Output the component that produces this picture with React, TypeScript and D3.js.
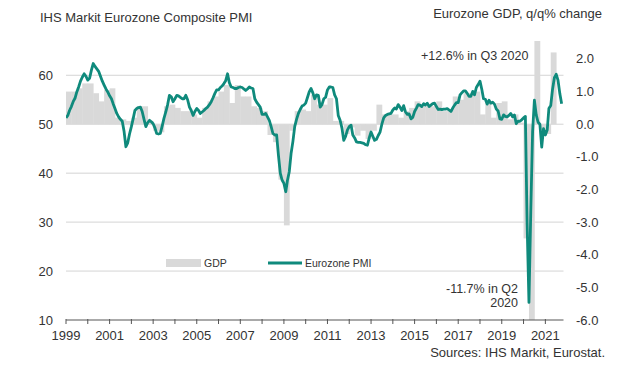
import React from "react";
import * as d3 from "d3";

// Eurozone Composite PMI, monthly from Jan 1999
const pmi1999_2004 = [
  51.3, 51.8, 52.8, 53.6, 54.6, 55.3, 56.6, 57.6, 58.8, 59.6, 60.3, 59.8,
  59.0, 59.4, 61.0, 62.4, 61.8, 61.3, 60.8, 59.8, 58.8, 58.0, 57.2, 56.6,
  55.8, 55.2, 54.2, 53.2, 52.2, 51.5, 51.0, 50.6, 48.5, 45.4, 46.2, 48.0,
  49.5, 51.2, 52.8, 53.2, 53.4, 53.5, 52.6, 51.0, 49.5, 50.3, 50.8, 50.5,
  50.1, 49.2, 48.1, 48.0, 48.1, 49.6, 51.2, 52.5, 54.0, 55.9, 55.6, 54.6,
  55.2, 55.9, 55.8, 55.5, 55.2, 55.2, 55.9, 55.0, 53.5, 52.8, 51.8, 52.6,
];
const pmi2005_2010 = [
  53.2, 52.8, 52.2, 52.5, 52.8, 53.2, 53.5, 54.0, 54.6, 55.4, 56.3, 57.0,
  57.0, 57.5, 57.8, 58.3, 58.9, 60.3, 58.5, 57.6, 57.5, 57.3, 57.3, 57.5,
  57.6, 57.5, 57.2, 56.9, 57.2, 57.6, 57.4, 57.3, 55.2, 54.5, 54.0, 53.5,
  52.0, 52.0, 52.2, 51.5, 50.8, 49.5, 48.1, 47.8, 47.8, 43.7, 40.0, 38.6,
  37.9, 36.2, 38.5, 40.3, 44.0, 46.5, 49.5, 51.0, 52.2, 53.0, 53.7, 53.9,
  54.3, 55.5, 56.6, 57.3, 56.4, 55.2, 56.0, 55.9, 53.5, 54.0, 55.2, 55.5,
];
const pmi2011_2016 = [
  57.0, 57.6, 57.6, 57.5, 56.0, 55.2, 51.8, 50.8, 49.2, 46.7, 47.5, 48.8,
  49.5, 49.8, 47.8, 47.2, 46.4, 46.3, 46.3, 46.2, 46.1, 45.8, 45.7, 47.2,
  48.4, 47.5, 46.7, 46.9, 47.7, 48.4, 50.0, 51.3, 51.8, 52.0, 52.1, 52.2,
  52.9, 53.3, 53.1, 54.0, 53.5, 52.8, 53.8, 52.5, 52.0, 52.1, 51.1, 51.4,
  52.6, 53.3, 54.0, 53.9, 53.6, 54.2, 53.9, 54.3, 53.6, 53.9, 54.2, 54.3,
  53.6, 53.0, 53.1, 53.0, 53.1, 53.1, 53.2, 52.9, 52.6, 53.3, 53.9, 54.4,
];
const pmi2017_2021 = [
  54.4, 56.0, 56.4, 56.8, 56.8, 56.3, 55.7, 55.7, 56.7, 56.0, 57.5, 58.1,
  58.8, 57.1, 55.2, 55.1, 54.1, 54.9, 54.3, 54.5, 54.1, 53.1, 52.7, 51.1,
  51.0, 51.9, 51.6, 51.5, 51.8, 52.2, 51.5, 51.9, 50.1, 50.6, 50.6, 50.9,
  51.3, 51.6, 29.7, 13.6, 31.9, 48.5, 54.9, 51.9, 50.4, 50.0, 45.3, 49.1,
  47.8, 48.8, 53.2, 53.8, 57.1, 59.5, 60.2, 59.0, 56.2, 54.2,
];

// Eurozone GDP q/q %, quarterly from 1999 Q1
const gdpQuarterly = [
  1.0, 1.0, 1.1, 1.25,
  1.25, 0.95, 0.7, 1.05,
  1.1, 0.2, 0.15, 0.1,
  0.2, 0.55, 0.55, 0.1,
  -0.2, -0.25, 0.55, 0.6,
  0.5, 0.4, 0.4, 0.3,
  0.2, 0.5, 0.7, 0.85,
  1.0, 1.2, 0.65, 1.2,
  0.85, 0.85, 0.55, 0.5,
  0.4, -0.33, -0.55, -1.7,
  -3.1, -0.2, 0.4, 0.45,
  0.4, 0.9, 0.6, 0.6,
  0.8, 0.1, 0.1, -0.3,
  -0.1, -0.35, -0.2, -0.45,
  -0.2, 0.6, 0.3, 0.3,
  0.3, 0.2, 0.4, 0.5,
  0.7, 0.55, 0.55, 0.55,
  0.7, 0.4, 0.45, 0.85,
  0.75, 0.95, 0.95, 1.0,
  0.3, 0.65, 0.2, 0.65,
  0.7, 0.15, 0.3, 0.05,
  -3.5, -11.7, 12.6, -0.2,
  -0.3, 2.2,
];

const yearTicks = d3.range(1999, 2022);
const yearLabels = d3.range(1999, 2022, 2);
const leftTicks = [10, 20, 30, 40, 50, 60];
const rightTicks = [2, 1, 0, -1, -2, -3, -4, -5, -6];

const pmiMonthly = [...pmi1999_2004, ...pmi2005_2010, ...pmi2011_2016, ...pmi2017_2021];

const TEAL = "#0f8a7c";
const GREY_BAR = "#d9d9d9";
const TEXT = "#333333";
const FONT = "'Liberation Sans', Arial, sans-serif";

export default function App() {
  const W = 641, H = 381;
  const left = 66, right = 563.5, top = 41, bottom = 320;

  const x = d3.scaleTime()
    .domain([new Date(1999, 0, 1), new Date(2021, 10, 1)])
    .range([left, right]);
  const yL = d3.scaleLinear().domain([10, 67]).range([bottom, top]);
  const yR = d3.scaleLinear().domain([(10 - 50) / (40 / 6), (67 - 50) / (40 / 6)]).range([bottom, top]);

  const pmiPts = pmiMonthly.map((v, i) => ({ d: new Date(1999, i, 1), v }));
  const line = d3.line<{ d: Date; v: number }>()
    .x((p) => x(p.d))
    .y((p) => yL(p.v));

  const bars = gdpQuarterly.map((v, i) => {
    const x0 = x(new Date(1999, i * 3, 1));
    const x1 = x(new Date(1999, i * 3 + 3, 1));
    const y0 = yR(0);
    const y1 = yR(v);
    return { x: x0, w: x1 - x0 + 0.4, y: Math.min(y0, y1), h: Math.abs(y1 - y0) };
  });

  return (
    <svg width={W} height={H} style={{ position: "absolute", left: 0, top: 0, background: "#fff" }} fontFamily={FONT}>
      <defs>
        <clipPath id="plot">
          <rect x={left} y={top} width={right - left} height={bottom - top} />
        </clipPath>
      </defs>
      <rect x={0} y={0} width={W} height={H} fill="#fff" />

      {/* gridlines */}
      {leftTicks.filter((t) => t > 10).map((t) => (
        <line key={t} x1={left} x2={right} y1={yL(t)} y2={yL(t)} stroke="#d4d4d4" strokeWidth={1} />
      ))}

      {/* GDP bars */}
      <g clipPath="url(#plot)">
        {bars.map((b, i) => (
          <rect key={i} x={b.x} y={b.y} width={b.w} height={b.h} fill={GREY_BAR} />
        ))}
      </g>

      {/* PMI line */}
      <g clipPath="url(#plot)">
        <path d={line(pmiPts) || ""} fill="none" stroke={TEAL} strokeWidth={2.8} strokeLinejoin="round" />
      </g>

      {/* x axis */}
      <line x1={left} x2={right} y1={bottom} y2={bottom} stroke="#555" strokeWidth={1} />
      {yearTicks.map((yr) => (
        <line key={yr} x1={x(new Date(yr, 0, 1))} x2={x(new Date(yr, 0, 1))} y1={bottom - 1} y2={bottom + 4} stroke="#555" strokeWidth={1} />
      ))}
      {yearLabels.map((yr) => (
        <text key={yr} x={x(new Date(yr, 0, 1))} y={340} textAnchor="middle" fontSize={13} fill={TEXT}>{yr}</text>
      ))}

      {/* left axis labels */}
      {leftTicks.map((t) => (
        <text key={t} x={53} y={yL(t) + 4.5} textAnchor="end" fontSize={13} fill={TEXT}>{t}</text>
      ))}

      {/* right axis labels */}
      {rightTicks.map((t) => (
        <text key={t} x={576} y={yR(t) + 4.5} textAnchor="start" fontSize={13} fill={TEXT}>{t.toFixed(1)}</text>
      ))}

      {/* titles */}
      <text x={40} y={21.5} fontSize={13} fill={TEXT}>IHS Markit Eurozone Composite PMI</text>
      <text x={602} y={17.5} textAnchor="end" fontSize={13} fill={TEXT}>Eurozone GDP, q/q% change</text>

      {/* annotations */}
      <text x={421} y={60} fontSize={12.5} fill={TEXT}>+12.6% in Q3 2020</text>
      <text x={518} y={293} textAnchor="end" fontSize={12.5} fill={TEXT}>-11.7% in Q2</text>
      <text x={518} y={307} textAnchor="end" fontSize={12.5} fill={TEXT}>2020</text>

      {/* legend */}
      <rect x={166} y={259} width={35} height={8} fill={GREY_BAR} />
      <text x={204} y={267} fontSize={10.5} fill={TEXT}>GDP</text>
      <line x1={268} x2={302} y1={263} y2={263} stroke={TEAL} strokeWidth={2.8} />
      <text x={305} y={267} fontSize={10.5} fill={TEXT}>Eurozone PMI</text>

      {/* source */}
      <text x={605} y={357} textAnchor="end" fontSize={13} fill={TEXT}>Sources: IHS Markit, Eurostat.</text>
    </svg>
  );
}
